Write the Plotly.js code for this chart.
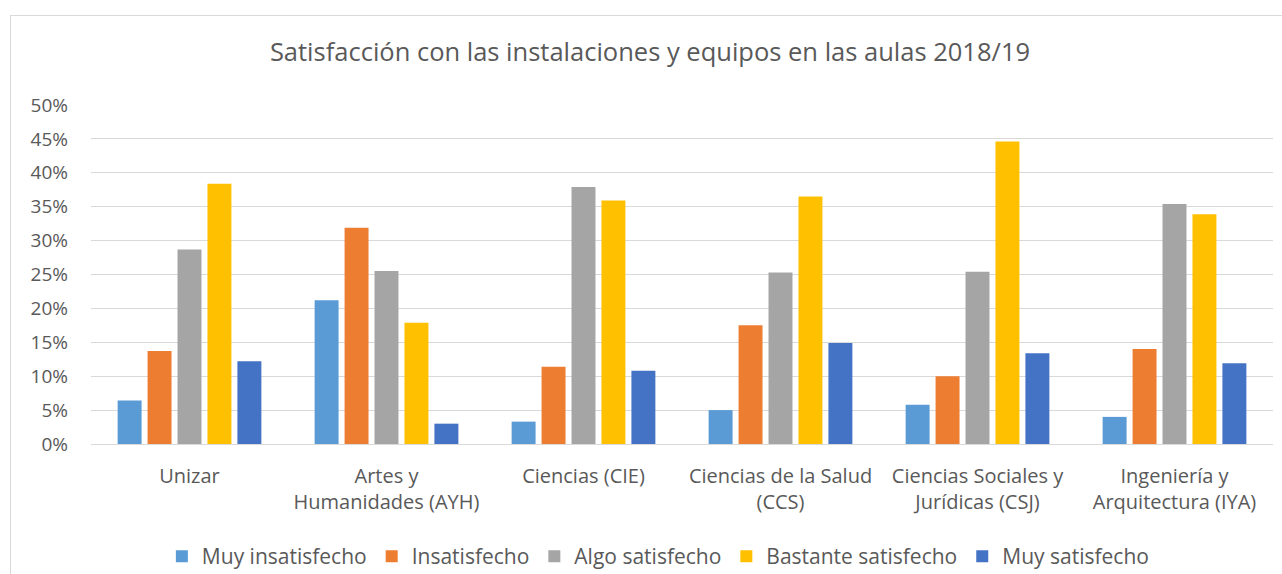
<!DOCTYPE html>
<html>
<head>
<meta charset="utf-8">
<script src="https://cdn.plot.ly/plotly-3.0.1.min.js"></script>
<style>
  html, body { margin: 0; padding: 0; background: #fff; }
  #wrap { position: relative; width: 1282px; height: 574px; overflow: hidden; }
  #chart { position: absolute; left: 0; top: 0; width: 1282px; height: 574px; }
  #frame { position: absolute; left: 10px; top: 15px; width: 1300px; height: 600px;
           border-left: 1px solid #d9d9d9; border-top: 1px solid #d9d9d9; pointer-events: none; }
</style>
</head>
<body>
<div id="wrap">
  <div id="chart"></div>
  <div id="frame"></div>
</div>
<script>
const categories = [
  "Unizar",
  "Artes y<br>Humanidades (AYH)",
  "Ciencias (CIE)",
  "Ciencias de la Salud<br>(CCS)",
  "Ciencias Sociales y<br>Jurídicas (CSJ)",
  "Ingeniería y<br>Arquitectura (IYA)"
];
const seriesNames = ["Muy insatisfecho", "Insatisfecho", "Algo satisfecho", "Bastante satisfecho", "Muy satisfecho"];
const muyInsatisfecho   = [6.4, 21.2, 3.3, 5.0, 5.8, 4.0];
const insatisfecho      = [13.7, 31.9, 11.4, 17.5, 10.0, 14.0];
const algoSatisfecho    = [28.7, 25.5, 37.9, 25.3, 25.4, 35.4];
const bastanteSatisfecho= [38.4, 17.9, 35.9, 36.5, 44.6, 33.9];
const muySatisfecho     = [12.2, 3.0, 10.8, 14.9, 13.4, 11.9];
const yTickVals = [0, 5, 10, 15, 20, 25, 30, 35, 40, 45, 50];

const colors = ["#5B9BD5", "#ED7D31", "#A5A5A5", "#FFC000", "#4472C4"];
const values = [muyInsatisfecho, insatisfecho, algoSatisfecho, bastanteSatisfecho, muySatisfecho];
const font = "Open Sans, Noto Sans, sans-serif";
const textColor = "#595959";

const traces = values.map((v, i) => ({
  type: "bar",
  name: seriesNames[i],
  x: categories,
  y: v,
  marker: { color: colors[i] },
  hoverinfo: "x+y+name"
}));

const layout = {
  width: 1282, height: 574,
  margin: { l: 91, r: 9, t: 105, b: 130, autoexpand: false },
  paper_bgcolor: "rgba(0,0,0,0)",
  plot_bgcolor: "#fff",
  barmode: "group",
  bargap: 0.24,
  bargroupgap: 0.2,
  title: {
    text: "Satisfacción con las instalaciones y equipos en las aulas 2018/19",
    font: { family: font, size: 25.5, color: textColor },
    x: 0.507, xanchor: "center",
    y: 0.909, yanchor: "middle"
  },
  xaxis: {
    type: "category",
    automargin: false,
    tickfont: { family: font, size: 20, color: textColor },
    showgrid: false,
    showline: false,
    ticks: "",
    ticklabelstandoff: 18
  },
  yaxis: {
    range: [0, 50],
    automargin: false,
    tickvals: yTickVals,
    ticktext: yTickVals.map(v => v + "%"),
    tickfont: { family: font, size: 19, color: textColor },
    gridcolor: "#d9d9d9",
    gridwidth: 1,
    zeroline: true,
    zerolinecolor: "#d9d9d9",
    zerolinewidth: 1,
    showline: false,
    ticks: "",
    ticklabelstandoff: 22,
    fixedrange: true
  },
  showlegend: true,
  legend: {
    orientation: "h",
    x: 0.48, xanchor: "center",
    y: -0.332, yanchor: "middle",
    font: { family: font, size: 21, color: textColor },
    itemwidth: 30,
    tracegroupgap: 0
  },
  font: { family: font, color: textColor }
};

Plotly.newPlot("chart", traces, layout, { displayModeBar: false, staticPlot: true });
</script>
</body>
</html>
